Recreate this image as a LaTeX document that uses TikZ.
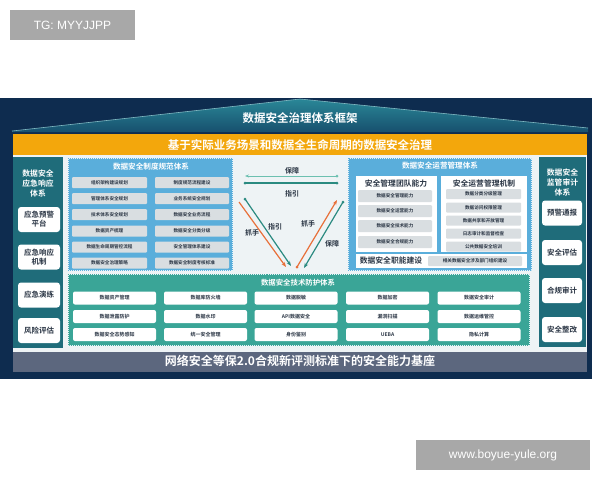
\documentclass[tikz,border=0pt]{standalone}
\usepackage{fontspec}
\setmainfont{Noto Sans CJK SC}[BoldFont={Noto Sans CJK SC Bold}]
\newfontfamily\latinfont{Liberation Sans}
\usetikzlibrary{arrows.meta,shapes.geometric}
\definecolor{navy}{HTML}{0E2C4F}
\definecolor{roofA}{HTML}{2A8797}
\definecolor{roofB}{HTML}{17506E}
\definecolor{orangeband}{HTML}{F3A70C}
\definecolor{colteal}{HTML}{1F6C7A}
\definecolor{panelblue}{HTML}{5AAEDB}
\definecolor{techteal}{HTML}{3AA597}
\definecolor{rowgray}{HTML}{D9DEE1}
\definecolor{txtdark}{HTML}{2B3645}
\definecolor{baseband}{HTML}{5C677E}
\definecolor{lightbg}{HTML}{EEF3F5}
\definecolor{arrorange}{HTML}{E8703A}
\definecolor{arrteal}{HTML}{2A8A80}
\definecolor{arrlight}{HTML}{6CC0B0}
\definecolor{wmgray}{HTML}{A8A8A8}
\tikzset{
  colbox/.style={fill=white, rounded corners=3pt, font=\bfseries\fontsize{7.5}{9}\selectfont, text=txtdark, align=center, inner sep=0pt, minimum height=25pt},
  coltitle/.style={font=\bfseries\fontsize{7.8}{10}\selectfont, text=white, align=center, inner sep=0pt},
  rowbox/.style={fill=rowgray, rounded corners=1pt, font=\bfseries\fontsize{4.6}{6}\selectfont, text=txtdark, inner sep=0pt, minimum height=11pt},
  techbox/.style={fill=white, rounded corners=2pt, font=\bfseries\fontsize{5}{6}\selectfont, text=txtdark, inner sep=0pt, minimum width=83pt, minimum height=13pt},
  paneltitle/.style={font=\bfseries\fontsize{7.6}{9}\selectfont, text=white, inner sep=0pt},
  innertitle/.style={font=\bfseries\fontsize{7.8}{9}\selectfont, text=txtdark, inner sep=0pt},
  arrlabel/.style={font=\bfseries\fontsize{7}{8}\selectfont, text=txtdark, inner sep=0pt},
  dotted border/.style={draw=white!85!panelblue, line width=0.6pt, dash pattern=on 1pt off 1pt},
  wm/.style={fill=wmgray, text=white, font=\latinfont\fontsize{12}{14}\selectfont, inner sep=0pt},
  dot/.style={circle, fill, inner sep=0pt, minimum size=3pt},
}
\begin{document}
\begin{tikzpicture}[x=1pt,y=-1pt]
\useasboundingbox (0,0) rectangle (600,480);
% watermarks
\node[wm, minimum width=125pt, minimum height=30pt] (wm1) at (72.5,25) {TG: MYYJJPP};
\node[wm, minimum width=174pt, minimum height=30pt] (wm2) at (503,455) {www.boyue-yule.org};
% navy frame
\fill[navy] (0,98) rectangle (592,379);
% roof
\shade[top color=roofA, bottom color=roofB] (12,131) -- (300,99) -- (588,128) -- (588,132) -- (12,132) -- cycle;
\draw[roofA!60!white, line width=0.6pt] (12,131) -- (300,99) -- (588,128);
\node[font=\bfseries\fontsize{11.5}{13}\selectfont, text=white, inner sep=0pt] (title) at (300,118) {数据安全治理体系框架};
% orange band
\fill[orangeband] (13,134) rectangle (587,155);
\node[font=\bfseries\fontsize{11.5}{13}\selectfont, text=white, inner sep=0pt] (band) at (300,145) {基于实际业务场景和数据全生命周期的数据安全治理};
% light background
\fill[lightbg] (13,155) rectangle (587,352);
% bottom band
\fill[baseband] (13,352) rectangle (587,372);
\node[font=\bfseries\fontsize{12}{14}\selectfont, text=white, inner sep=0pt] (base) at (300,361) {网络安全等保2.0合规新评测标准下的安全能力基座};

% left column
\fill[colteal] (13,157) rectangle (63,348);
\node[coltitle] (ltitle) at (38,183) {数据安全\\应急响应\\体系};
\node[colbox, minimum width=42pt] (l1) at (39,219.5) {应急预警\\平台};
\node[colbox, minimum width=42pt] (l2) at (39,257) {应急响应\\机制};
\node[colbox, minimum width=42pt] (l3) at (39,295) {应急演练};
\node[colbox, minimum width=42pt] (l4) at (39,330.5) {风险评估};

% right column
\fill[colteal] (539,157) rectangle (586,347);
\node[coltitle] (rtitle) at (562.5,182.5) {数据安全\\监管审计\\体系};
\node[colbox, minimum width=40pt] (r1) at (562,213) {预警通报};
\node[colbox, minimum width=40pt] (r2) at (562,252.5) {安全评估};
\node[colbox, minimum width=40pt] (r3) at (562,290.5) {合规审计};
\node[colbox, minimum width=40pt] (r4) at (562,329.5) {安全整改};

% left blue panel
\fill[panelblue] (68,158) rectangle (233,271);
\draw[dotted border] (68.5,158.5) rectangle (232.5,270.5);
\node[paneltitle] (lbtitle) at (151,167) {数据安全制度规范体系};
\foreach \t/\y [count=\i] in {组织架构建设规划/182.5, 管理体系安全规划/198.5, 技术体系安全规划/214.5, 数据资产梳理/231, 数据生命周期管控流程/247, 数据安全治理策略/263}
  \node[rowbox, minimum width=75pt] (la\i) at (109.5,\y) {\t};
\foreach \t/\y [count=\i] in {制度规范流程建设/182.5, 业务系统安全规划/198.5, 数据安全业务流程/214.5, 数据安全分类分级/231, 安全管理体系建设/247, 数据安全制度考核标准/263}
  \node[rowbox, minimum width=74pt] (lb\i) at (192,\y) {\t};

% right blue panel
\fill[panelblue] (348,158) rectangle (532,271);
\draw[dotted border] (348.5,158.5) rectangle (531.5,270.5);
\node[paneltitle] (rbtitle) at (440,166) {数据安全运营管理体系};
\fill[white] (356,176) rectangle (437,252);
\fill[white] (441,176) rectangle (527,252);
\fill[white] (356,254) rectangle (527,268);
\node[innertitle] (rin1) at (396,183.5) {安全管理团队能力};
\node[innertitle] (rin2) at (484,183.5) {安全运营管理机制};
\foreach \t/\y [count=\i] in {数据安全管理能力/196, 数据安全运营能力/211, 数据安全技术能力/226, 数据安全合规能力/242}
  \node[rowbox, minimum width=74pt, minimum height=12pt] (ra\i) at (395,\y) {\t};
\foreach \t/\y [count=\i] in {数据分类分级管理/194, 数据访问权限管理/207.5, 数据共享和开放管理/220.5, 日志审计和监督检查/233.5, 公共数据安全培训/246.5}
  \node[rowbox, minimum width=75pt, minimum height=10pt] (rb\i) at (483.5,\y) {\t};
\node[innertitle] (rfun) at (391,261) {数据安全职能建设};
\node[rowbox, minimum width=94pt, minimum height=10pt] (rdept) at (475,261) {相关数据安全涉及部门组织建设};

% middle arrows
\coordinate (h1a) at (245,176);
\coordinate (h1b) at (337,176);
\coordinate (h2a) at (245,183);
\coordinate (h2b) at (337,183);
\draw[arrlight, line width=1pt, -{Stealth[length=4pt]}] (h1b) -- (h1a);
\node[dot, arrlight] (h1dot) at (h1b) {};
\draw[arrteal, line width=1.2pt] (h2a) -- (h2b);
\node[dot, arrteal] (h2dA) at (h2a) {};
\node[dot, arrteal] (h2dB) at (h2b) {};
\node[arrlabel] (lbl1) at (292,170.5) {保障};
\node[arrlabel] (lbl2) at (292,194) {指引};

\coordinate (vlo1) at (239,202);
\coordinate (vlo2) at (286,267);
\coordinate (vlt1) at (245,199);
\coordinate (vlt2) at (291,266);
\coordinate (vro1) at (297,267);
\coordinate (vro2) at (337,200);
\coordinate (vrt1) at (304,268);
\coordinate (vrt2) at (343,202);
\draw[arrorange, line width=1.2pt, -{Stealth[length=5pt]}] (vlo1) -- (vlo2);
\draw[arrteal, line width=1.2pt, -{Stealth[length=5pt]}] (vlt1) -- (vlt2);
\node[dot, arrteal] (vltd) at (vlt1) {};
\draw[arrorange, line width=1.2pt, -{Stealth[length=5pt]}] (vro1) -- (vro2);
\node[dot, arrorange] (vrod) at (vro1) {};
\draw[arrteal, line width=1.2pt, -{Stealth[length=5pt]}] (vrt2) -- (vrt1);
\node[dot, arrteal] (vrtd) at (vrt2) {};
\node[arrlabel] (lbl3) at (252,233) {抓手};
\node[arrlabel] (lbl4) at (275,227) {指引};
\node[arrlabel] (lbl5) at (308,224) {抓手};
\node[arrlabel] (lbl6) at (332,244) {保障};

% tech panel
\fill[techteal] (68,274) rectangle (530,346);
\draw[dotted border] (68.5,274.5) rectangle (529.5,345.5);
\node[paneltitle, font=\bfseries\fontsize{7.4}{9}\selectfont] (ttitle) at (298,283) {数据安全技术防护体系};
\foreach \t/\x [count=\i] in {数据资产管理/114.5, 数据库防火墙/205.5, 数据脱敏/296, 数据加密/387.5, 数据安全审计/479}
  \node[techbox] (ta\i) at (\x,298) {\t};
\foreach \t/\x [count=\i] in {数据泄露防护/114.5, 数据水印/205.5, API数据安全/296, 漏洞扫描/387.5, 数据运维管控/479}
  \node[techbox] (tb\i) at (\x,316.5) {\t};
\foreach \t/\x [count=\i] in {数据安全态势感知/114.5, 统一安全管理/205.5, 身份鉴别/296, UEBA/387.5, 隐私计算/479}
  \node[techbox] (tc\i) at (\x,334.5) {\t};
\end{tikzpicture}
\end{document}
